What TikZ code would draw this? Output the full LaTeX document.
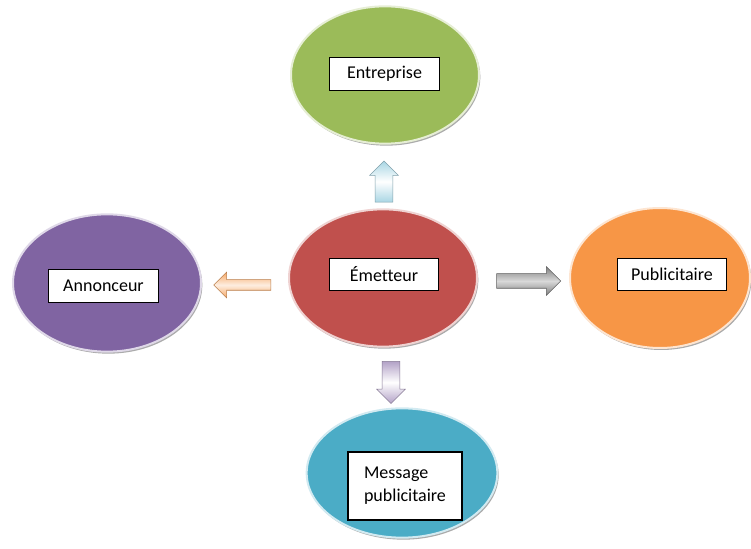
\documentclass[tikz,border=0pt]{standalone}
\usepackage{fontspec}
\setmainfont{Carlito}[Ligatures=NoCommon]
\usetikzlibrary{shapes.geometric,shapes.arrows,shadows}

\definecolor{cGreen}{HTML}{9BBB59}
\definecolor{cRed}{HTML}{C0504D}
\definecolor{cPurple}{HTML}{8064A2}
\definecolor{cOrange}{HTML}{F79646}
\definecolor{cBlue}{HTML}{4BACC6}
\definecolor{cSky}{HTML}{A9D6E4}
\definecolor{cPeach}{HTML}{F7A865}
\definecolor{cGrey}{HTML}{7F7F7F}
\definecolor{cLilac}{HTML}{B3A2C7}

\tikzset{every picture/.style={line width=0.75pt}}
\tikzset{
  bubble/.style={ellipse, minimum width=141pt, minimum height=103pt, inner sep=0pt,
    draw=#1!25, line width=1.5pt, fill=#1,
    drop shadow={shadow xshift=1pt, shadow yshift=-1.5pt, fill=black!55, opacity=0.6}},
  labelbox/.style={draw=black, line width=0.9pt, fill=white, minimum width=82pt,
    minimum height=24.5pt, inner sep=2pt, font=\fontsize{13.5}{17}\selectfont},
  blockarrow/.style 2 args={single arrow, draw=#1!75!black, line width=0.4pt,
    inner xsep=0pt, inner ysep=6.4pt, minimum width=0pt,
    top color=#1, bottom color=#1, middle color=#2, single arrow head extend=4.1pt}
}

\begin{document}
\begin{tikzpicture}[x=0.75pt,y=0.75pt,yscale=-1,xscale=1]
\useasboundingbox (0,0) rectangle (751,549);

%Shape: Ellipse
\draw (385,75) node [bubble=cGreen] (entreprise) {};
%Shape: Ellipse
\draw (107,283) node [bubble=cPurple] (annonceur) {};
%Shape: Ellipse
\draw (383,278) node [bubble=cRed] (emetteur) {};
%Shape: Ellipse
\draw (660,278) node [bubble=cOrange, minimum width=135pt, minimum height=105pt] (publicitaire) {};
%Shape: Ellipse
\draw (402,473) node [bubble=cBlue, minimum width=143pt, minimum height=97pt] (message) {};

%Shape: Single Arrow
\draw (384,186) node [blockarrow={cSky}{white}, rotate=90, minimum height=30.75pt] (toEntreprise) {};
%Shape: Single Arrow
\draw (245,285) node [blockarrow={cPeach}{white!80!cPeach}, rotate=180, minimum height=42.75pt,
  inner ysep=3.75pt, single arrow head extend=5.6pt] (toAnnonceur) {};
%Shape: Single Arrow
\draw (525,281) node [blockarrow={cGrey}{white!85!black}, minimum height=48pt,
  inner ysep=5.25pt, single arrow head extend=5.25pt] (toPublicitaire) {};
%Shape: Single Arrow
\draw (391,378) node [blockarrow={cLilac}{white}, rotate=-90, minimum height=31.5pt] (toMessage) {};

% Text Node
\draw (384.5,74) node [labelbox] (tEntreprise) {Entreprise};
% Text Node
\draw (103.5,286) node [labelbox] (tAnnonceur) {Annonceur};
% Text Node
\draw (384,274.5) node [labelbox] (tEmetteur) {Émetteur};
% Text Node
\draw (672,274.5) node [labelbox] (tPublicitaire) {Publicitaire};
% Text Node
\draw (405,486) node [labelbox, align=left, minimum width=85.5pt, minimum height=51pt] (tMessage) {Message\\publicitaire};

\end{tikzpicture}
\end{document}
